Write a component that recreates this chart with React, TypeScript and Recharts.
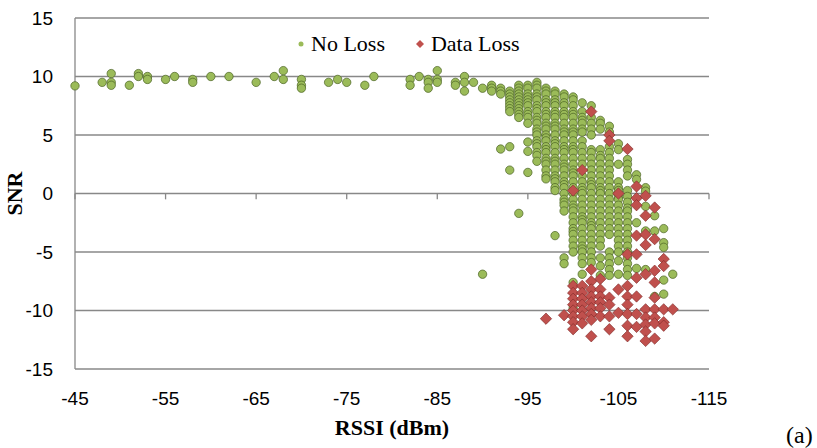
import React from "react";
import {
  CartesianGrid,
  Label,
  Legend,
  ReferenceLine,
  Scatter,
  ScatterChart,
  XAxis,
  YAxis,
} from "recharts";

const rssiTicks = [-45, -55, -65, -75, -85, -95, -105, -115];
const snrTicks = [-15, -10, -5, 0, 5, 10, 15];

// [RSSI (dBm), SNR readings seen at that RSSI]
const noLoss: [number, number[]][] = [
  [-45, [9.2]],
  [-48, [9.5]],
  [-49, [10.25, 9.5, 9.25]],
  [-51, [9.25]],
  [-52, [10.25, 10.0]],
  [-53, [10.0, 9.75]],
  [-55, [9.75]],
  [-56, [10.0]],
  [-58, [9.75, 9.5]],
  [-60, [10.0]],
  [-62, [10.0]],
  [-65, [9.5]],
  [-67, [10.0]],
  [-68, [10.5, 9.75]],
  [-70, [9.75, 9.25, 9.0]],
  [-73, [9.5]],
  [-74, [9.75]],
  [-75, [9.5]],
  [-77, [9.25]],
  [-78, [10.0]],
  [-82, [9.75, 9.25]],
  [-83, [10.0]],
  [-84, [9.75, 9.5, 9.0]],
  [-85, [10.5, 9.75, 9.5]],
  [-87, [9.5, 9.25]],
  [-88, [10.0, 9.5, 8.75]],
  [-89, [9.5]],
  [-90, [9.0, -6.9]],
  [-91, [9.25, 9.0, 8.75]],
  [-92, [9.0, 8.75, 8.5, 3.8]],
  [-93, [8.75, 8.5, 8.25, 8.0, 7.75, 7.5, 7.25, 7.0, 4.0, 2.0]],
  [-94, [9.25, 9.0, 8.75, 8.5, 8.25, 8.0, 7.75, 7.5, 7.25, 7.0, 6.75, 6.5, -1.7]],
  [-95, [9.25, 9.0, 8.5, 8.25, 8.0, 7.75, 7.5, 7.0, 6.75, 6.5, 6.0, 4.4, 3.6, 1.8]],
  [-96, [9.5, 9.25, 9.0, 8.5, 8.25, 8.0, 7.5, 7.25, 7.0, 6.5, 6.25, 6.0, 5.5, 5.25, 5.0, 4.5, 4.25, 4.0, 3.5, 3.25, 2.75]],
  [-97, [9.0, 8.75, 8.5, 8.0, 7.75, 7.5, 7.0, 6.75, 6.5, 6.0, 5.75, 5.5, 5.0, 4.75, 4.5, 4.0, 3.75, 3.5, 3.0, 2.75, 2.5, 2.0, 1.5, 1.25]],
  [-98, [8.75, 8.5, 8.0, 7.75, 7.5, 7.0, 6.75, 6.5, 6.0, 5.75, 5.5, 5.0, 4.5, 4.25, 4.0, 3.5, 3.0, 2.75, 2.5, 2.0, 1.5, 1.25, 1.0, 0.5, 0.25, -3.6]],
  [-99, [8.5, 8.25, 7.75, 7.5, 7.0, 6.75, 6.5, 6.0, 5.5, 5.25, 5.0, 4.5, 4.0, 3.75, 3.5, 3.0, 2.5, 2.25, 2.0, 1.5, 1.0, 0.75, 0.5, 0.0, -0.5, -0.75, -1.0, -1.5, -5.5, -6.0]],
  [-100, [8.25, 8.0, 7.5, 7.0, 6.75, 6.5, 6.0, 5.5, 5.25, 5.0, 4.5, 4.0, 3.75, 3.5, 3.0, 2.5, 2.0, 1.75, 1.5, 1.0, 0.5, 0.0, -0.5, -1.0, -1.25, -1.5, -2.0, -2.5, -3.0, -3.25, -3.5, -4.0, -4.5, -5.0, -7.6, -9.8]],
  [-101, [7.75, 7.0, 6.5, 6.25, 6.0, 5.5, 5.25, 4.5, 4.0, 3.5, 3.0, 2.5, 1.5, 1.0, 0.5, 0.25, 0.0, -0.5, -1.0, -1.5, -2.0, -2.25, -2.5, -3.0, -3.5, -4.0, -4.5, -4.75, -5.0, -5.5, -6.0, -6.9]],
  [-102, [7.5, 6.5, 6.0, 5.5, 5.0, 3.75, 3.5, 3.0, 2.5, 2.0, 1.5, 1.0, 0.75, 0.5, 0.0, -0.5, -1.0, -1.5, -2.0, -2.5, -2.75, -3.0, -3.5, -4.0, -4.5, -5.0, -5.5, -5.9]],
  [-103, [6.25, 6.0, 5.5, 3.75, 3.25, 3.0, 2.5, 2.0, 1.5, 1.0, 0.5, 0.25, 0.0, -0.5, -1.0, -1.5, -2.0, -2.5, -3.0, -3.5, -4.0, -4.5, -5.5, -6.2, -7.0]],
  [-104, [5.75, 5.25, 4.0, 3.5, 3.0, 2.5, 2.0, 1.5, 1.0, 0.5, 0.0, -0.5, -1.0, -1.5, -2.0, -2.5, -3.0, -3.5, -5.0, -5.5, -6.0, -6.5, -7.0]],
  [-105, [4.25, 3.75, 2.5, 1.0, 0.5, 0.25, -0.25, -0.5, -1.0, -1.5, -2.0, -2.5, -3.0, -3.5, -4.0, -4.5, -5.0, -5.75, -6.9]],
  [-106, [2.9, 2.5, 2.0, 1.5, 0.25, -0.25, -0.75, -1.25, -1.5, -2.0, -2.5, -3.0, -3.5, -4.0, -4.5, -5.0, -5.5, -6.0, -6.5, -7.0]],
  [-107, [1.6, 1.2, -2.5, -6.4]],
  [-108, [0.5, 0.2, -1.1, -3.2, -6.5]],
  [-109, [-1.9, -3.2, -8.8]],
  [-110, [-3.0, -4.2, -4.6, -7.4, -8.6]],
  [-111, [-6.9]],
];

const dataLoss: [number, number[]][] = [
  [-97, [-10.7]],
  [-99, [-10.4]],
  [-100, [0.25, -7.9, -8.5, -9.0, -9.5, -10.0, -10.5, -11.0, -11.6]],
  [-101, [2.0, -7.9, -8.5, -9.0, -9.5, -10.0, -10.5, -11.1]],
  [-102, [7.0, -6.5, -7.5, -8.2, -8.8, -9.3, -9.8, -10.3, -10.8, -12.2]],
  [-103, [-7.3, -8.2, -8.8, -9.3, -9.8, -10.5]],
  [-104, [5.0, 4.5, -8.9, -9.5, -10.5, -11.6]],
  [-105, [0.0, -8.2, -10.2]],
  [-106, [3.8, -5.2, -7.9, -8.8, -9.5, -10.3, -11.3, -12.2]],
  [-107, [0.6, -0.4, -1.0, -3.6, -5.2, -7.2, -8.8, -10.3, -11.4]],
  [-108, [-0.2, -1.9, -3.5, -4.4, -6.9, -9.9, -10.6, -11.2, -11.8, -12.6]],
  [-109, [-1.2, -3.9, -6.6, -7.6, -8.9, -9.9, -10.6, -11.1, -12.4]],
  [-110, [-5.6, -6.2, -9.9, -11.0, -11.3]],
  [-111, [-9.9]],
];

const GREEN = "#9BBB59";
const GREEN_EDGE = "#4a6323";
const RED = "#C0504D";
const RED_EDGE = "#7d2826";
const GRID = "#888888";
const SANS = "'Liberation Sans', Arial, sans-serif";
const SERIF = "'Liberation Serif', 'Times New Roman', serif";

const toPoints = (cols: [number, number[]][]) =>
  cols.flatMap(([x, ys]) => ys.map((y) => ({ x, y })));

const noLossPts = toPoints(noLoss);
const dataLossPts = toPoints(dataLoss);

const diamondPath = (cx: number, cy: number, s: number) =>
  `M${cx},${cy - s}L${cx + s},${cy}L${cx},${cy + s}L${cx - s},${cy}Z`;

const GreenDot = (p: any) => (
  <circle
    cx={p.cx}
    cy={p.cy}
    r={4.2}
    fill={GREEN}
    stroke={GREEN_EDGE}
    strokeOpacity={0.7}
    strokeWidth={1}
  />
);

const RedDiamond = (p: any) => (
  <path
    d={diamondPath(p.cx, p.cy, 5.7)}
    fill={RED}
    stroke={RED_EDGE}
    strokeOpacity={0.6}
    strokeWidth={1}
  />
);

const LegendBox = () => (
  <div
    style={{
      display: "flex",
      alignItems: "center",
      fontFamily: SERIF,
      fontSize: 22,
      color: "#000",
      whiteSpace: "nowrap",
    }}
  >
    <svg width={8} height={8}>
      <circle cx={4} cy={4} r={2.5} fill={GREEN} />
    </svg>
    <span style={{ marginLeft: 6 }}>No Loss</span>
    <svg width={10} height={10} style={{ marginLeft: 30 }}>
      <path d={diamondPath(5, 5, 4)} fill={RED} />
    </svg>
    <span style={{ marginLeft: 6 }}>Data Loss</span>
  </div>
);

export default function App() {
  return (
    <div
      style={{
        position: "absolute",
        left: 0,
        top: 0,
        width: 817,
        height: 448,
        background: "#fff",
      }}
    >
      <ScatterChart
        width={817}
        height={448}
        margin={{ top: 18, right: 108, bottom: 29, left: 0 }}
      >
        <CartesianGrid vertical={false} stroke={GRID} strokeWidth={1.3} />
        <XAxis
          type="number"
          dataKey="x"
          domain={[-115, -45]}
          reversed
          ticks={rssiTicks}
          interval={0}
          height={50}
          axisLine={false}
          tickLine={false}
          tickSize={0}
          tickMargin={23}
          tick={{ fontSize: 19, fontFamily: SANS, fill: "#000" }}
        >
          <Label
            content={({ viewBox }: any) => (
              <text
                x={viewBox.x + viewBox.width / 2}
                y={viewBox.y + 58}
                textAnchor="middle"
                dominantBaseline="central"
                fontFamily={SERIF}
                fontWeight="bold"
                fontSize={22}
                fill="#000"
              >
                RSSI (dBm)
              </text>
            )}
          />
        </XAxis>
        <YAxis
          type="number"
          dataKey="y"
          domain={[-15, 15]}
          ticks={snrTicks}
          interval={0}
          width={75}
          axisLine={{ stroke: GRID, strokeWidth: 1.3 }}
          tickLine={false}
          tickSize={0}
          tickMargin={22}
          tick={{ fontSize: 19, fontFamily: SANS, fill: "#000" }}
        >
          <Label
            content={({ viewBox }: any) => {
              const cx = viewBox.x + 14;
              const cy = viewBox.y + viewBox.height / 2;
              return (
                <text
                  x={cx}
                  y={cy}
                  transform={`rotate(-90, ${cx}, ${cy})`}
                  textAnchor="middle"
                  dominantBaseline="central"
                  fontFamily={SERIF}
                  fontWeight="bold"
                  fontSize={22}
                  fill="#000"
                >
                  SNR
                </text>
              );
            }}
          />
        </YAxis>
        {/* horizontal axis crosses at SNR = 0, ticks hang below it */}
        {rssiTicks.map((t) => (
          <ReferenceLine
            key={t}
            segment={[
              { x: t, y: 0 },
              { x: t, y: -0.5 },
            ]}
            stroke={GRID}
            strokeWidth={1.3}
          />
        ))}
        <Legend
          verticalAlign="middle"
          content={<LegendBox />}
          wrapperStyle={{ top: 31, left: 297, width: "auto" }}
        />
        <Scatter
          name="No Loss"
          data={noLossPts}
          shape={GreenDot}
          isAnimationActive={false}
        />
        <Scatter
          name="Data Loss"
          data={dataLossPts}
          shape={RedDiamond}
          isAnimationActive={false}
        />
      </ScatterChart>
      <div
        style={{
          position: "absolute",
          left: 786,
          top: 422,
          fontFamily: SERIF,
          fontSize: 24,
          color: "#000",
        }}
      >
        (a)
      </div>
    </div>
  );
}
